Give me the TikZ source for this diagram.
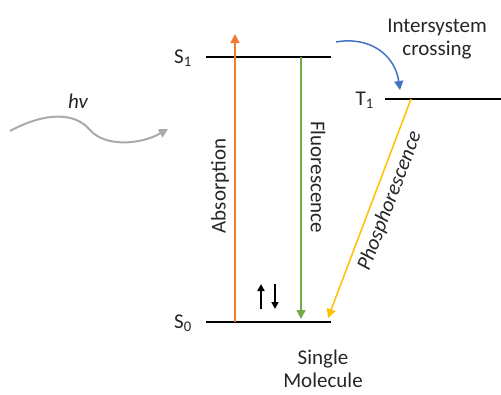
\documentclass[tikz,border=0pt]{standalone}
\usepackage{fontspec}
\setmainfont{Carlito}
\usetikzlibrary{arrows.meta}
\definecolor{absorb}{RGB}{237,125,49}
\definecolor{fluor}{RGB}{112,173,71}
\definecolor{phos}{RGB}{255,192,0}
\definecolor{isc}{RGB}{68,114,196}
\definecolor{light}{RGB}{170,170,170}
\tikzset{
  level/.style={line width=2.4pt, black},
  trans/.style={line width=1.5pt, -{Triangle[length=9pt,width=9pt]}},
  lbl/.style={font=\fontsize{21}{23}\selectfont, inner sep=0pt, text=black!85},
  state/.style={font=\fontsize{21}{23}\selectfont, inner sep=0pt, text=black!85},
  spin/.style={line width=1.7pt, -{Triangle[length=7pt,width=7pt]}}
}
\begin{document}
\begin{tikzpicture}[x=1pt,y=-1pt]
\useasboundingbox (0,0) rectangle (501,394);
% energy levels
\coordinate (s1a) at (206,57); \coordinate (s1b) at (331,57);
\coordinate (s0a) at (206,322); \coordinate (s0b) at (331,322);
\coordinate (t1a) at (385,99); \coordinate (t1b) at (501,99);
\draw[level] (s1a) -- (s1b);
\draw[level] (s0a) -- (s0b);
\draw[level] (t1a) -- (t1b);
\node[state, anchor=east] (S1) at (192,58) {S\textsubscript{1}};
\node[state, anchor=east] (S0) at (192,323) {S\textsubscript{0}};
\node[state, anchor=east] (T1) at (374,100) {T\textsubscript{1}};
% absorption
\coordinate (absA) at (235,322); \coordinate (absB) at (235,34);
\draw[trans, absorb] (absA) -- (absB);
\node[lbl, rotate=90] (abs) at (220,186) {Absorption};
% fluorescence
\coordinate (flA) at (301,57); \coordinate (flB) at (301,319);
\draw[trans, fluor] (flA) -- (flB);
\node[lbl, rotate=-90] (fl) at (318,177) {Fluorescence};
% phosphorescence
\coordinate (phA) at (411,99); \coordinate (phB) at (328,318);
\draw[trans, phos] (phA) -- (phB);
\node[lbl, rotate=69.2, font=\fontsize{21}{23}\selectfont\itshape] (ph) at (390,201) {Phosphorescence};
% intersystem crossing
\coordinate (iscA) at (336,42); \coordinate (iscB) at (400,90);
\draw[trans, isc] (iscA) .. controls (370,36) and (395,55) .. (iscB);
\node[lbl, align=center] (isct) at (437,39) {Intersystem\\crossing};
% hv
\coordinate (hvA) at (10,131); \coordinate (hvM) at (90,130); \coordinate (hvB) at (168,129);
\draw[light, line width=2pt, -{Triangle[length=9pt,width=9pt]}] (hvA) .. controls (45,112) and (75,112) .. (hvM) .. controls (105,147) and (140,145) .. (hvB);
\node[lbl, font=\fontsize{21}{23}\selectfont\itshape] (hv) at (78,101) {hv};
% spins
\coordinate (upA) at (261,309); \coordinate (upB) at (261,284);
\coordinate (dnA) at (275,284); \coordinate (dnB) at (275,309);
\draw[spin] (upA) -- (upB);
\draw[spin] (dnA) -- (dnB);
% label
\node[lbl, align=center] (sm) at (323,369) {Single\\Molecule};
\end{tikzpicture}
\end{document}
